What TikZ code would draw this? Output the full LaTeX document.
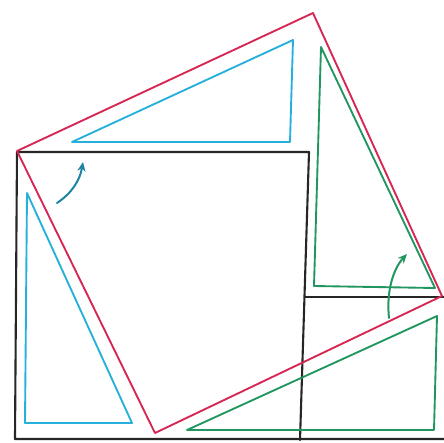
\documentclass[tikz,border=0pt]{standalone}
\usetikzlibrary{arrows.meta}
\definecolor{sqred}{RGB}{214,38,84}
\definecolor{triblue}{RGB}{38,176,218}
\definecolor{trigreen}{RGB}{34,150,96}
\begin{document}
\begin{tikzpicture}[x=0.03cm,y=-0.03cm,line join=round,line cap=round,
  edge/.style={line width=1.8pt,black!85},
  hyp/.style={line width=1.6pt,sqred},
  bluetri/.style={line width=1.6pt,triblue},
  greentri/.style={line width=1.6pt,trigreen},
  turn/.style={line width=1.7pt,-{Stealth[length=8pt,width=7pt]}}]
\useasboundingbox (0,0) rectangle (444,442);
% squares on the two legs
\draw[edge] (17,152) -- (309,152) -- (300,440);
\draw[edge] (17,152) -- (15,439) -- (444,439);
\draw[edge] (305,297) -- (444,297);
% square on the hypotenuse
\coordinate (A) at (17,151);
\coordinate (B) at (313,13);
\coordinate (C) at (442,296);
\coordinate (D) at (155,433);
\draw[hyp] (A) -- (B) -- (C) -- (D) -- cycle;
% pieces cut off and where they go
\draw[bluetri] (27,193) -- (25,423) -- (132,423) -- cycle;
\draw[bluetri] (72,142) -- (290,142) -- (293,40) -- cycle;
\draw[greentri] (187,430) -- (434,430) -- (437,316) -- cycle;
\draw[greentri] (321,47) -- (314,286) -- (435,288) -- cycle;
\draw[turn,triblue!75!black] (57,203) .. controls (72,193) and (80,180) .. (83,162);
\draw[turn,trigreen] (389,318) .. controls (386,290) and (394,268) .. (407,254);
\end{tikzpicture}
\end{document}
